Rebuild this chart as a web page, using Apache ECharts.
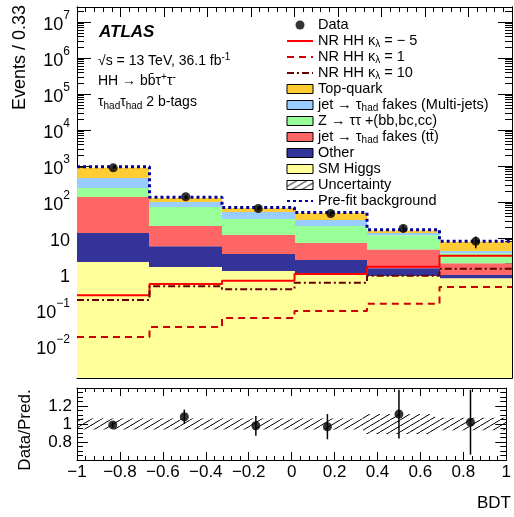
<!DOCTYPE html>
<html><head><meta charset="utf-8">
<script src="https://cdn.jsdelivr.net/npm/echarts@6/dist/echarts.min.js"></script>
<style>html,body{margin:0;padding:0;background:#fff}#c{width:514px;height:517px}</style>
</head><body><div id="c"></div>
<script>
// ---------------- data ----------------
const binEdges   = [-1, -0.6667, -0.3333, 0, 0.3333, 0.6667, 1];
const binCenters = [-0.8333, -0.5, -0.1667, 0.1667, 0.5, 0.8333];
const xTickLabels = ['−1', '−0.8', '−0.6', '−0.4', '−0.2', '0', '0.2', '0.4', '0.6', '0.8', '1'];
const yMajorTicks = [0.01, 0.1, 1, 10, 100, 1000, 1e4, 1e5, 1e6, 1e7];
const smHiggs   = [2.15, 1.56, 1.21, 1.07, 0.88, 0.77];
const otherBkg  = [11.7, 4.4, 2.4, 1.4, 0.56, 0.17];
const ttFakes   = [124, 15.5, 8.5, 4.85, 3.4, 1.06];
const zTauTau   = [107, 51, 21.6, 14.2, 7.05, 1.8];
const multiJets = [219, 27.4, 19, 10.1, 1.9, 0.6];
const topQuark  = [436, 29, 15.3, 17.9, 2.4, 3.5];
const prefitBkg = [950, 135, 70, 51, 17, 8.2];
const dataVals  = [890, 140, 66, 48, 18.5, 8.1];
const dataErrs  = [30, 12, 8, 7, 4.3, 2.9];
const hhKlMinus5 = [0.26, 0.53, 0.65, 1.0, 1.6, 3.2];
const hhKl1      = [0.018, 0.034, 0.06, 0.094, 0.15, 0.44];
const hhKl10     = [0.19, 0.46, 0.38, 0.57, 0.9, 1.4];
const ratioVals = [0.99, 1.08, 0.98, 0.97, 1.11, 1.02];
const ratioErrs = [0.03, 0.08, 0.11, 0.14, 0.27, 0.36];
const ratioUnc  = [0.06, 0.06, 0.06, 0.06, 0.11, 0.07];

// ---------------- helpers ----------------
const FONT = '"Liberation Sans", Arial, Helvetica, sans-serif';
const YMIN = 0.0013, YMAX = 2.6e7;

const hc = document.createElement('canvas'); hc.width = 10; hc.height = 6;
(function(){ const g = hc.getContext('2d'); g.strokeStyle = '#000'; g.lineWidth = 1;
  g.beginPath(); g.moveTo(0, 6); g.lineTo(10, 0); g.stroke(); })();
const hatch = {image: hc, repeat: 'repeat'};

const stackDefs = [
  {name: 'SMH',    vals: smHiggs,   color: '#FFFF99'},
  {name: 'Other',  vals: otherBkg,  color: '#333399'},
  {name: 'ttfake', vals: ttFakes,   color: '#FF6666'},
  {name: 'Ztt',    vals: zTauTau,   color: '#99FF99'},
  {name: 'MJ',     vals: multiJets, color: '#99CCFF'},
  {name: 'Top',    vals: topQuark,  color: '#FFCC33'}
];
const cum = binCenters.map(() => 0);
stackDefs.forEach(d => {
  d.data = d.vals.map((v, i) => {
    const lo = cum[i] === 0 ? YMIN : cum[i];
    cum[i] += v;
    return [binEdges[i], binEdges[i + 1], lo, cum[i]];
  });
});

function rectItem(params, api) {
  const p0 = api.coord([api.value(0), api.value(3)]);
  const p1 = api.coord([api.value(1), api.value(2)]);
  const x0 = Math.round(p0[0]), x1 = Math.round(p1[0]);
  return {type: 'rect', shape: {x: x0, y: p0[1], width: x1 - x0, height: p1[1] - p0[1]},
          style: {fill: api.visual('color')}};
}
function errItem(params, api) {
  const x = api.value(0), y = api.value(1), e = api.value(2);
  const a = api.coord([x, y - e]), b = api.coord([x, y + e]);
  return {type: 'line', shape: {x1: a[0], y1: a[1], x2: b[0], y2: b[1]}, style: {stroke: '#000', lineWidth: 1.5}};
}
function stepPts(vals) {
  const pts = [];
  vals.forEach((v, i) => { pts.push([binEdges[i], v]); pts.push([binEdges[i + 1], v]); });
  return pts;
}
const yMinorTicks = [];
yMajorTicks.concat([0.001]).forEach(p => { for (let m = 2; m <= 9; m++) { const v = m * p; if (v > YMIN && v < YMAX) yMinorTicks.push(v); } });

function fmtLog(v) {
  const l = Math.log10(v), e = Math.round(l);
  if (Math.abs(l - e) > 1e-6) return '';
  if (e === 0) return '{b|1}';
  if (e === 1) return '{b|10}';
  return '{b|10}{sup|' + (e < 0 ? '−' + (-e) : e) + '}';
}
function fmtX(v) {
  const i = Math.round((v + 1) / 0.2);
  return xTickLabels[i] !== undefined ? xTickLabels[i] : '';
}
function fmtR(v) {
  const r = Math.round(v * 10) / 10;
  if (r <= 0.6 || r >= 1.4) return '';
  return String(r);
}
function xAx(grid, pos, labels) {
  return {type: 'value', gridIndex: grid, position: pos, min: -1, max: 1, interval: 0.2,
    axisLine: {show: true, onZero: false, lineStyle: {color: '#000', width: 1}},
    axisTick: {show: true, inside: true, length: grid === 0 ? 10 : 8, lineStyle: {color: '#000'}},
    minorTick: {show: true, splitNumber: 5, length: grid === 0 ? 5 : 4, lineStyle: {color: '#000'}},
    splitLine: {show: false}, minorSplitLine: {show: false}, axisPointer: {show: false},
    axisLabel: {show: labels, color: '#000', fontSize: 17, fontFamily: FONT, margin: 4, formatter: fmtX,
      showMinLabel: true, showMaxLabel: true, hideOverlap: false}};
}
function yLog(pos, labels, ticks, len) {
  return {type: 'log', gridIndex: 0, position: pos, min: YMIN, max: YMAX, logBase: 10, splitNumber: 10,
    axisLine: {show: true, onZero: false, lineStyle: {color: '#000', width: 1}},
    axisTick: {show: true, inside: true, length: len, customValues: ticks, lineStyle: {color: '#000'}},
    splitLine: {show: false}, minorTick: {show: false}, minorSplitLine: {show: false}, axisPointer: {show: false},
    axisLabel: {show: labels, customValues: ticks, formatter: fmtLog, color: '#000', fontFamily: FONT, margin: 7,
      showMinLabel: true, showMaxLabel: true, hideOverlap: false,
      rich: {b: {fontSize: 18, fontFamily: FONT, color: '#000', lineHeight: 24, verticalAlign: 'bottom'},
             sup: {fontSize: 12, fontFamily: FONT, color: '#000', lineHeight: 12, verticalAlign: 'top'}}}};
}
function yRatio(pos, labels) {
  return {type: 'value', gridIndex: 1, position: pos, min: 0.6, max: 1.4, interval: 0.2,
    axisLine: {show: true, onZero: false, lineStyle: {color: '#000', width: 1}},
    axisTick: {show: true, inside: true, length: 11, lineStyle: {color: '#000'}},
    minorTick: {show: true, splitNumber: 4, length: 6, lineStyle: {color: '#000'}},
    splitLine: {show: false}, minorSplitLine: {show: false}, axisPointer: {show: false},
    axisLabel: {show: labels, formatter: fmtR, color: '#000', fontSize: 17, fontFamily: FONT, margin: 5,
      showMinLabel: true, showMaxLabel: true}};
}

const legendNames = {
  'Data': 'Data',
  'kl-5': 'NR HH κ{sub|λ} = − 5',
  'kl1': 'NR HH κ{sub|λ} = 1',
  'kl10': 'NR HH κ{sub|λ} = 10',
  'Top': 'Top-quark',
  'MJ': 'jet → τ{sub|had} fakes (Multi-jets)',
  'Ztt': 'Z → ττ +(bb,bc,cc)',
  'ttfake': 'jet → τ{sub|had} fakes (tt̄)',
  'Other': 'Other',
  'SMH': 'SM Higgs',
  'Unc': 'Uncertainty',
  'Prefit': 'Pre-fit background'
};
const boxLegend = n => ({name: n, icon: 'rect', itemStyle: {borderColor: '#000', borderWidth: 1}});
const lineLegend = n => ({name: n, itemStyle: {opacity: 0, color: 'transparent', borderWidth: 0}});

const series = [];
stackDefs.forEach((d, k) => series.push({
  name: d.name, type: 'custom', xAxisIndex: 0, yAxisIndex: 0, renderItem: rectItem,
  itemStyle: {color: d.color}, data: d.data, z: 2, encode: {x: [0, 1], y: [2, 3]}, silent: true
}));
series.push({name: 'Unc', type: 'custom', xAxisIndex: 2, yAxisIndex: 2, itemStyle: {color: hatch},
  renderItem: function(params, api) {
    const p0 = api.coord([api.value(0), api.value(3)]), p1 = api.coord([api.value(1), api.value(2)]);
    const x0 = Math.round(p0[0]), x1 = Math.round(p1[0]);
    return {type: 'rect', shape: {x: x0, y: p0[1], width: x1 - x0, height: p1[1] - p0[1]},
            style: {fill: hatch}};
  },
  data: ratioUnc.map((u, i) => [binEdges[i], binEdges[i + 1], 1 - u, 1 + u]), encode: {x: [0, 1], y: [2, 3]}, z: 3, silent: true});
const lineSer = (name, vals, color, width, type, z) => ({
  name: name, type: 'line', xAxisIndex: 0, yAxisIndex: 0, data: stepPts(vals), symbol: 'none', showSymbol: false,
  lineStyle: {color: color, width: width, type: type, cap: 'butt'}, itemStyle: {color: color}, z: z, silent: true, animation: false
});
series.push(lineSer('Prefit', prefitBkg, '#000099', 3, [3, 3], 5));
series.push(lineSer('kl-5', hhKlMinus5, '#FF0000', 2, 'solid', 6));
series.push(lineSer('kl1', hhKl1, '#CC0000', 2, [7, 5], 6));
series.push(lineSer('kl10', hhKl10, '#660000', 2, [7, 3, 2, 3], 6));
series.push({name: 'dataerr', type: 'custom', xAxisIndex: 0, yAxisIndex: 0, renderItem: errItem,
  data: binCenters.map((c, i) => [c, dataVals[i], dataErrs[i]]), encode: {x: 0, y: 1}, z: 7, silent: true});
series.push({name: 'Data', type: 'scatter', xAxisIndex: 0, yAxisIndex: 0, symbol: 'circle', symbolSize: 9,
  itemStyle: {color: '#000'}, data: binCenters.map((c, i) => [c, dataVals[i]]), z: 8, silent: true});
series.push({name: 'ratioerr', type: 'custom', xAxisIndex: 2, yAxisIndex: 2, renderItem: errItem, clip: true,
  data: binCenters.map((c, i) => [c, ratioVals[i], ratioErrs[i]]), encode: {x: 0, y: 1}, z: 7, silent: true});
series.push({name: 'ratio', type: 'scatter', xAxisIndex: 2, yAxisIndex: 2, symbol: 'circle', symbolSize: 9,
  itemStyle: {color: '#000'}, data: binCenters.map((c, i) => [c, ratioVals[i]]), z: 8, silent: true});

const option = {
  animation: false,
  backgroundColor: '#fff',
  textStyle: {fontFamily: FONT},
  tooltip: {show: false},
  axisPointer: {show: false},
  grid: [
    {left: 77, right: 2, top: 7, height: 371, containLabel: false},
    {left: 77, right: 2, top: 388, height: 72, containLabel: false}
  ],
  xAxis: [xAx(0, 'bottom', false), xAx(0, 'top', false), xAx(1, 'bottom', true), xAx(1, 'top', false)],
  yAxis: [yLog('left', true, yMajorTicks, 14), yLog('right', false, yMajorTicks, 14),
          yRatio('left', true), yRatio('right', false),
          yLog('left', false, yMinorTicks, 7), yLog('right', false, yMinorTicks, 7)],
  legend: {
    orient: 'vertical', left: 286, top: 17, padding: 0, itemGap: 0, itemWidth: 26, itemHeight: 9,
    selectedMode: false,
    data: [
      {name: 'Data', icon: 'circle'},
      lineLegend('kl-5'), lineLegend('kl1'), lineLegend('kl10'),
      boxLegend('Top'), boxLegend('MJ'), boxLegend('Ztt'), boxLegend('ttfake'), boxLegend('Other'), boxLegend('SMH'),
      {name: 'Unc', icon: 'rect', itemStyle: {color: hatch, borderColor: '#000', borderWidth: 1}},
      lineLegend('Prefit')
    ],
    formatter: n => legendNames[n] || n,
    textStyle: {fontSize: 14.5, fontFamily: FONT, color: '#000', lineHeight: 16,
      rich: {sub: {fontSize: 10, fontFamily: FONT, color: '#000', lineHeight: 8, verticalAlign: 'bottom'}}}
  },
  graphic: [
    {type: 'text', x: 99, y: 32, style: {text: 'ATLAS', font: 'italic bold 17px ' + FONT, fill: '#000', verticalAlign: 'middle'}},
    {type: 'text', x: 98, y: 61, style: {text: '√s = 13 TeV, 36.1 fb{sup|-1}', fontSize: 14, fontFamily: FONT, fill: '#000',
      verticalAlign: 'middle', lineHeight: 18, rich: {sup: {fontSize: 10, fontFamily: FONT, lineHeight: 10, verticalAlign: 'top'}}}},
    {type: 'text', x: 98, y: 81, style: {text: 'HH → bb̄τ{sup|+}τ{sup|-}', fontSize: 14, fontFamily: FONT, fill: '#000',
      verticalAlign: 'middle', lineHeight: 18, rich: {sup: {fontSize: 10, fontFamily: FONT, lineHeight: 10, verticalAlign: 'top'}}}},
    {type: 'text', x: 98, y: 102, style: {text: 'τ{sub|had}τ{sub|had} 2 b-tags', fontSize: 14, fontFamily: FONT, fill: '#000',
      verticalAlign: 'middle', lineHeight: 18, rich: {sub: {fontSize: 10, fontFamily: FONT, lineHeight: 9, verticalAlign: 'bottom'}}}},
    {type: 'text', x: 20, y: 5, rotation: Math.PI / 2, style: {text: 'Events / 0.33', fontSize: 18, fontFamily: FONT, fill: '#000',
      align: 'right', verticalAlign: 'middle'}},
    {type: 'text', x: 25, y: 430, rotation: Math.PI / 2, style: {text: 'Data/Pred.', fontSize: 17, fontFamily: FONT, fill: '#000',
      align: 'center', verticalAlign: 'middle'}},
    {type: 'text', x: 511, y: 503, style: {text: 'BDT', fontSize: 17, fontFamily: FONT, fill: '#000',
      align: 'right', verticalAlign: 'middle'}}
  ],
  series: series
};
const chart = echarts.init(document.getElementById('c'), null, {renderer: 'canvas'});
chart.setOption(option);
</script></body></html>
